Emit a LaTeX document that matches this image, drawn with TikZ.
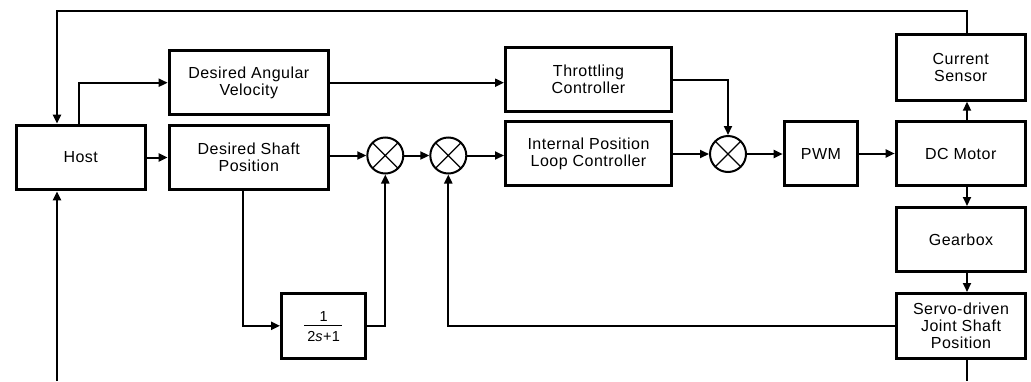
\documentclass[tikz,border=0pt]{standalone}
\usepackage{fontspec}
\setmainfont{Liberation Sans}[LetterSpace=3]
\usetikzlibrary{arrows.meta}
\begin{document}
\begin{tikzpicture}[x=1pt,y=-1pt,
  blk/.style={draw, line width=3pt, align=center, inner sep=0pt, font=\fontsize{16}{17}\selectfont},
  arr/.style={line width=2pt, -{Triangle[length=9pt,width=8pt]}},
  wire/.style={line width=2pt},
  sumc/.style={circle, draw, line width=2pt, minimum size=36pt, inner sep=0pt,
    path picture={\draw[line width=1.2pt]
      (path picture bounding box.north west) -- (path picture bounding box.south east)
      (path picture bounding box.north east) -- (path picture bounding box.south west);}},
  frac/.style={inner sep=0pt, anchor=base, font=\fontsize{14.5}{16}\selectfont}
]
\fill[white] (0,0) rectangle (1031,381);
\useasboundingbox (0,0) rectangle (1031,381);

% blocks
\node[blk, minimum width=129pt, minimum height=64.7pt] (host) at (80.7,157.5) {Host};
\node[blk, minimum width=159.3pt, minimum height=63.7pt] (dav) at (248.8,82.7) {Desired Angular\\Velocity};
\node[blk, minimum width=159.3pt, minimum height=64.7pt] (dsp) at (248.8,157.5) {Desired Shaft\\Position};
\node[blk, minimum width=166pt, minimum height=64pt] (thr) at (588.5,79.5) {Throttling\\Controller};
\node[blk, minimum width=166pt, minimum height=64pt] (iplc) at (588.5,153.5) {Internal Position\\Loop Controller};
\node[blk, minimum width=73.6pt, minimum height=64.4pt] (pwm) at (821,153.5) {PWM};
\node[blk, minimum width=129pt, minimum height=64.4pt] (dc) at (960.7,153.5) {DC Motor};
\node[blk, minimum width=129pt, minimum height=65.4pt] (cs) at (960.7,67.5) {Current\\Sensor};
\node[blk, minimum width=129pt, minimum height=64pt] (gb) at (961,239.5) {Gearbox};
\node[blk, minimum width=129pt, minimum height=65pt] (servo) at (961,326) {Servo-driven\\Joint Shaft\\Position};
\node[blk, minimum width=84.3pt, minimum height=65.3pt] (tf) at (323.7,325.8) {};
\node[frac] (tfnum) at (323.7,321) {1};
\node[frac] (tfden) at (323.7,341.7) {2\textit{s}+1};
\draw[line width=1pt] (304,325.7) -- (342,325.7);

% summing junctions
\node[sumc] (sum1) at (385.3,155.5) {};
\node[sumc] (sum2) at (448.3,155.5) {};
\node[sumc] (sum3) at (728,154) {};

% helper coordinates
\coordinate (vx) at (967,0);
\coordinate (topL) at (57,11);
\coordinate (botL) at (57,381);
\coordinate (botR) at (967,381);

% connectors
\draw[arr] (host) -- (dsp);
\draw[arr] ([xshift=-2pt]host.north) |- (dav.west);
\draw[arr] (dav.east) -- (dav.east -| thr.west);
\draw[arr] (dsp.east |- sum1) -- (sum1);
\draw[arr] (sum1) -- (sum2);
\draw[arr] (sum2) -- (sum2 -| iplc.west);
\draw[arr] (iplc.east |- sum3) -- (sum3);
\draw[arr] (thr.east) -| (sum3.north);
\draw[arr] (sum3) -- (sum3 -| pwm.west);
\draw[arr] (pwm) -- (dc);
\draw[arr] (dc.north -| vx) -- (cs.south -| vx);
\draw[arr] (dc.south -| vx) -- (gb.north -| vx);
\draw[arr] (gb.south -| vx) -- (servo.north -| vx);
\draw[wire] (servo.south -| vx) -- (botR);
\draw[arr] (cs.north -| vx) |- (topL) -- (host.north -| topL);
\draw[arr] (botL) -- (host.south -| botL);
\draw[arr] ([xshift=-6pt]dsp.south) |- (tf.west);
\draw[arr] (tf.east) -| (sum1.south);
\draw[arr] (servo.west) -| (sum2.south);
\end{tikzpicture}
\end{document}
